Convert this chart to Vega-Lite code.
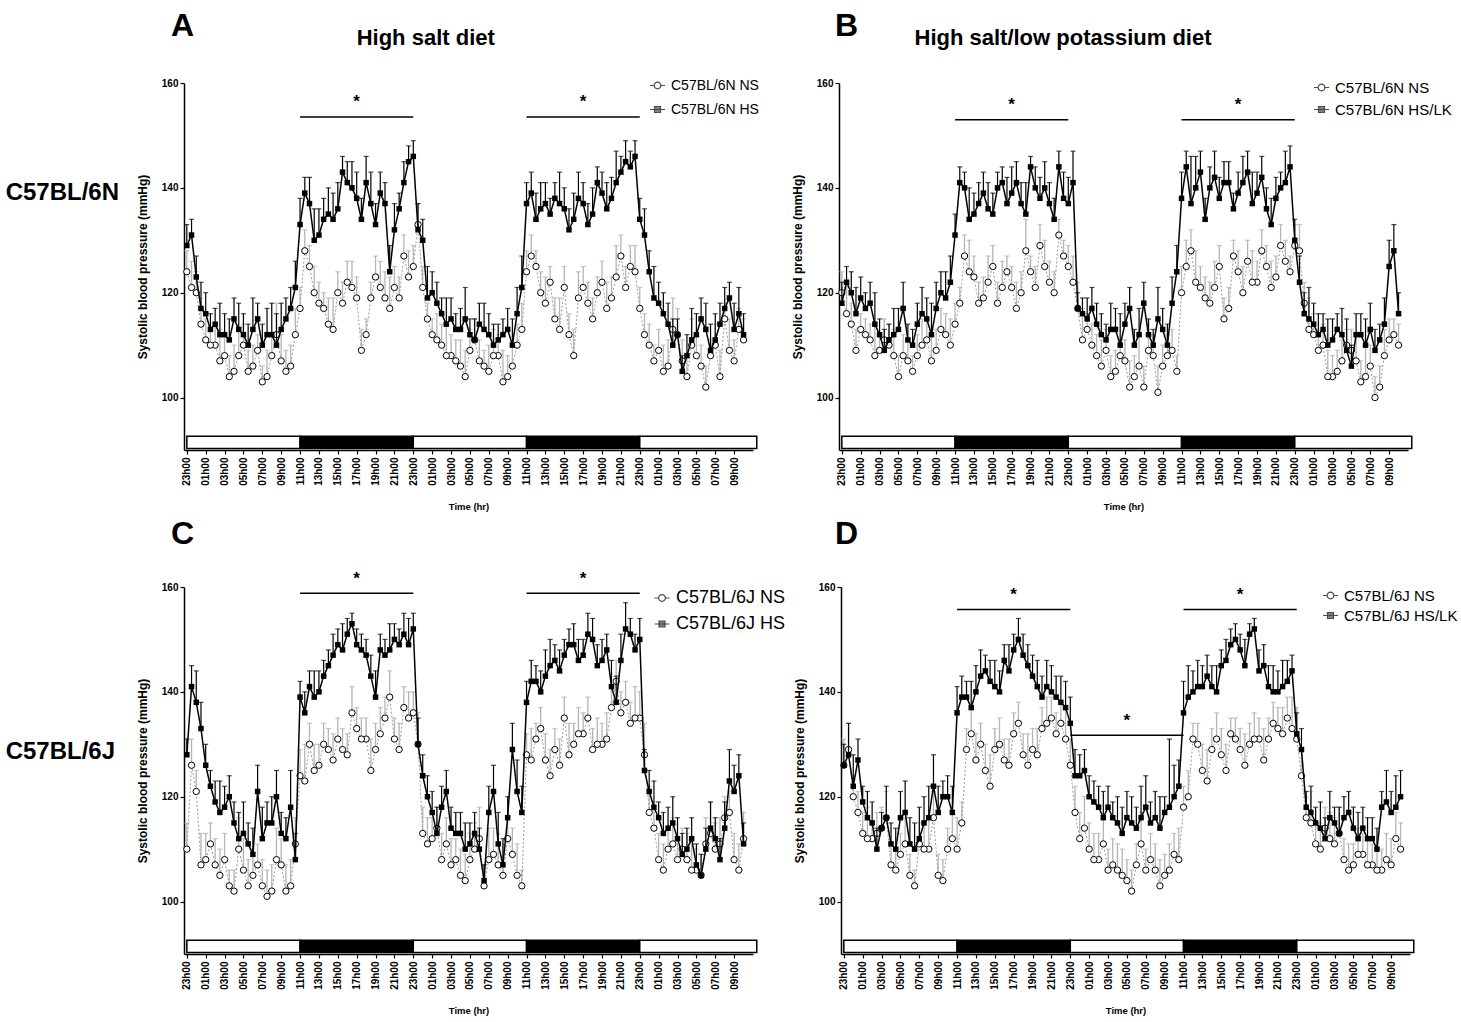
{
"$schema": "https://vega.github.io/schema/vega-lite/v6.json",
"padding": {"left": 5, "top": 9, "right": 5, "bottom": 2},
"config": {"font": "Liberation Sans", "view": {"stroke": null},
 "axis": {"labelFont": "Liberation Sans", "labelFontWeight": "bold", "labelFontSize": 10, "labelColor": "black", "titleFont": "Liberation Sans", "titleFontWeight": "bold", "titleFontSize": 9.5, "titleColor": "black", "domainColor": "black", "domainWidth": 1.5, "tickColor": "black", "tickWidth": 1.2, "grid": false},
 "axisY": {"titleFontSize": 12},
 "axisX": {"labelOverlap": false, "tickCount": 31},
 "legend": {"labelFont": "Liberation Sans", "labelColor": "black"}},
"datasets": {
"bars": [{"a":0,"b":12,"c":"L"},{"a":12,"b":24,"c":"D"},{"a":24,"b":36,"c":"L"},{"a":36,"b":48,"c":"D"},{"a":48,"b":60.4,"c":"L"}],
"sig": [{"a":12,"b":24,"m":18},{"a":36,"b":48,"m":42}],
"sig2": [{"a":24,"b":36,"m":30}],
"AH": [{"t":0,"y":129,"u":133},{"t":1,"y":123,"u":127},{"t":2,"y":116,"u":120},{"t":3,"y":114,"u":117},{"t":4,"y":112,"u":116},{"t":5,"y":115,"u":119},{"t":6,"y":112,"u":116},{"t":7,"y":113,"u":119},{"t":8,"y":110,"u":114},{"t":9,"y":112,"u":118},{"t":10,"y":113,"u":118},{"t":11,"y":117,"u":121},{"t":12,"y":133,"u":138},{"t":13,"y":137,"u":142},{"t":14,"y":131,"u":136},{"t":15,"y":135,"u":140},{"t":16,"y":136,"u":141},{"t":17,"y":141,"u":145},{"t":18,"y":138,"u":143},{"t":19,"y":141,"u":146},{"t":20,"y":133,"u":137},{"t":21,"y":137,"u":141},{"t":22,"y":132,"u":137},{"t":23,"y":141,"u":145},{"t":24,"y":146,"u":149},{"t":25,"y":130,"u":134},{"t":26,"y":120,"u":124},{"t":27,"y":116,"u":119},{"t":28,"y":115,"u":119},{"t":29,"y":113,"u":117},{"t":30,"y":112,"u":115},{"t":31,"y":114,"u":118},{"t":32,"y":112,"u":116},{"t":33,"y":111,"u":114},{"t":34,"y":113,"u":117},{"t":35,"y":116,"u":121},{"t":36,"y":137,"u":141},{"t":37,"y":134,"u":139},{"t":38,"y":137,"u":141},{"t":39,"y":138,"u":141},{"t":40,"y":136,"u":140},{"t":41,"y":134,"u":139},{"t":42,"y":137,"u":141},{"t":43,"y":135,"u":140},{"t":44,"y":139,"u":143},{"t":45,"y":138,"u":142},{"t":46,"y":143,"u":146},{"t":47,"y":144,"u":147},{"t":48,"y":134,"u":138},{"t":49,"y":124,"u":128},{"t":50,"y":118,"u":122},{"t":51,"y":114,"u":118},{"t":52,"y":112,"u":115},{"t":53,"y":108,"u":112},{"t":54,"y":112,"u":116},{"t":55,"y":113,"u":118},{"t":56,"y":111,"u":116},{"t":57,"y":117,"u":121},{"t":58,"y":113,"u":118},{"t":59,"y":112,"u":116},
{"t":0.5,"y":131,"u":134},{"t":1.5,"y":117,"u":122},{"t":2.5,"y":113,"u":116},{"t":3.5,"y":112,"u":118},{"t":4.5,"y":111,"u":115},{"t":5.5,"y":113,"u":118},{"t":6.5,"y":110,"u":114},{"t":7.5,"y":115,"u":118},{"t":8.5,"y":112,"u":117},{"t":9.5,"y":110,"u":116},{"t":10.5,"y":115,"u":119},{"t":11.5,"y":121,"u":126},{"t":12.5,"y":139,"u":142},{"t":13.5,"y":130,"u":136},{"t":14.5,"y":134,"u":138},{"t":15.5,"y":134,"u":139},{"t":16.5,"y":143,"u":146},{"t":17.5,"y":140,"u":145},{"t":18.5,"y":134,"u":138},{"t":19.5,"y":137,"u":143},{"t":20.5,"y":139,"u":143},{"t":21.5,"y":124,"u":129},{"t":22.5,"y":136,"u":139},{"t":23.5,"y":145,"u":148},{"t":24.5,"y":132,"u":137},{"t":25.5,"y":119,"u":125},{"t":26.5,"y":118,"u":122},{"t":27.5,"y":114,"u":119},{"t":28.5,"y":113,"u":116},{"t":29.5,"y":115,"u":121},{"t":30.5,"y":111,"u":115},{"t":31.5,"y":113,"u":118},{"t":32.5,"y":110,"u":114},{"t":33.5,"y":112,"u":115},{"t":34.5,"y":110,"u":115},{"t":35.5,"y":121,"u":127},{"t":36.5,"y":139,"u":143},{"t":37.5,"y":136,"u":141},{"t":38.5,"y":135,"u":138},{"t":39.5,"y":137,"u":143},{"t":40.5,"y":132,"u":136},{"t":41.5,"y":138,"u":143},{"t":42.5,"y":133,"u":137},{"t":43.5,"y":141,"u":144},{"t":44.5,"y":136,"u":141},{"t":45.5,"y":141,"u":147},{"t":46.5,"y":145,"u":149},{"t":47.5,"y":146,"u":149},{"t":48.5,"y":131,"u":136},{"t":49.5,"y":119,"u":125},{"t":50.5,"y":116,"u":120},{"t":51.5,"y":110,"u":115},{"t":52.5,"y":105,"u":108},{"t":53.5,"y":111,"u":117},{"t":54.5,"y":115,"u":119},{"t":55.5,"y":109,"u":114},{"t":56.5,"y":114,"u":118},{"t":57.5,"y":119,"u":122},{"t":58.5,"y":116,"u":121}],
"AN": [{"t":0,"y":124,"u":128},{"t":1,"y":120,"u":124},{"t":2,"y":111,"u":115},{"t":3,"y":110,"u":114},{"t":4,"y":108,"u":112},{"t":5,"y":105,"u":110},{"t":6,"y":110,"u":114},{"t":7,"y":106,"u":110},{"t":8,"y":103,"u":106},{"t":9,"y":108,"u":112},{"t":10,"y":107,"u":112},{"t":11,"y":106,"u":110},{"t":12,"y":117,"u":121},{"t":13,"y":125,"u":129},{"t":14,"y":118,"u":122},{"t":15,"y":114,"u":119},{"t":16,"y":120,"u":124},{"t":17,"y":122,"u":126},{"t":18,"y":119,"u":123},{"t":19,"y":112,"u":115},{"t":20,"y":123,"u":127},{"t":21,"y":119,"u":124},{"t":22,"y":121,"u":125},{"t":23,"y":127,"u":131},{"t":24,"y":125,"u":129},{"t":25,"y":121,"u":125},{"t":26,"y":112,"u":115},{"t":27,"y":110,"u":114},{"t":28,"y":108,"u":112},{"t":29,"y":106,"u":111},{"t":30,"y":109,"u":113},{"t":31,"y":107,"u":111},{"t":32,"y":105,"u":110},{"t":33,"y":108,"u":112},{"t":34,"y":104,"u":108},{"t":35,"y":110,"u":114},{"t":36,"y":124,"u":128},{"t":37,"y":125,"u":128},{"t":38,"y":118,"u":123},{"t":39,"y":115,"u":119},{"t":40,"y":121,"u":125},{"t":41,"y":108,"u":113},{"t":42,"y":121,"u":125},{"t":43,"y":115,"u":119},{"t":44,"y":122,"u":126},{"t":45,"y":119,"u":123},{"t":46,"y":127,"u":131},{"t":47,"y":125,"u":129},{"t":48,"y":117,"u":121},{"t":49,"y":110,"u":114},{"t":50,"y":109,"u":113},{"t":51,"y":106,"u":111},{"t":52,"y":112,"u":117},{"t":53,"y":104,"u":108},{"t":54,"y":108,"u":112},{"t":55,"y":102,"u":106},{"t":56,"y":110,"u":114},{"t":57,"y":115,"u":118},{"t":58,"y":107,"u":111},{"t":59,"y":111,"u":115},
{"t":0.5,"y":121,"u":126},{"t":1.5,"y":114,"u":119},{"t":2.5,"y":110,"u":113},{"t":3.5,"y":107,"u":113},{"t":4.5,"y":104,"u":108},{"t":5.5,"y":108,"u":113},{"t":6.5,"y":105,"u":109},{"t":7.5,"y":109,"u":112},{"t":8.5,"y":104,"u":109},{"t":9.5,"y":112,"u":118},{"t":10.5,"y":105,"u":109},{"t":11.5,"y":112,"u":117},{"t":12.5,"y":128,"u":132},{"t":13.5,"y":120,"u":125},{"t":14.5,"y":117,"u":120},{"t":15.5,"y":113,"u":119},{"t":16.5,"y":118,"u":122},{"t":17.5,"y":121,"u":126},{"t":18.5,"y":109,"u":113},{"t":19.5,"y":119,"u":122},{"t":20.5,"y":121,"u":126},{"t":21.5,"y":117,"u":123},{"t":22.5,"y":119,"u":123},{"t":23.5,"y":123,"u":128},{"t":24.5,"y":133,"u":137},{"t":25.5,"y":115,"u":118},{"t":26.5,"y":111,"u":116},{"t":27.5,"y":108,"u":114},{"t":28.5,"y":107,"u":111},{"t":29.5,"y":104,"u":109},{"t":30.5,"y":111,"u":115},{"t":31.5,"y":106,"u":109},{"t":32.5,"y":108,"u":113},{"t":33.5,"y":103,"u":109},{"t":34.5,"y":106,"u":110},{"t":35.5,"y":113,"u":118},{"t":36.5,"y":127,"u":131},{"t":37.5,"y":120,"u":124},{"t":38.5,"y":122,"u":125},{"t":39.5,"y":113,"u":119},{"t":40.5,"y":112,"u":116},{"t":41.5,"y":119,"u":124},{"t":42.5,"y":118,"u":122},{"t":43.5,"y":120,"u":123},{"t":44.5,"y":117,"u":122},{"t":45.5,"y":123,"u":129},{"t":46.5,"y":121,"u":125},{"t":47.5,"y":124,"u":129},{"t":48.5,"y":112,"u":116},{"t":49.5,"y":107,"u":110},{"t":50.5,"y":105,"u":110},{"t":51.5,"y":113,"u":119},{"t":52.5,"y":107,"u":111},{"t":53.5,"y":110,"u":115},{"t":54.5,"y":106,"u":110},{"t":55.5,"y":108,"u":111},{"t":56.5,"y":104,"u":109},{"t":57.5,"y":109,"u":115},{"t":58.5,"y":113,"u":117}],
"BH": [{"t":0,"y":118,"u":122},{"t":1,"y":120,"u":124},{"t":2,"y":119,"u":123},{"t":3,"y":118,"u":122},{"t":4,"y":112,"u":115},{"t":5,"y":111,"u":114},{"t":6,"y":113,"u":117},{"t":7,"y":111,"u":114},{"t":8,"y":114,"u":118},{"t":9,"y":115,"u":119},{"t":10,"y":117,"u":122},{"t":11,"y":119,"u":124},{"t":12,"y":131,"u":135},{"t":13,"y":140,"u":143},{"t":14,"y":135,"u":139},{"t":15,"y":139,"u":143},{"t":16,"y":135,"u":139},{"t":17,"y":141,"u":144},{"t":18,"y":139,"u":144},{"t":19,"y":137,"u":141},{"t":20,"y":144,"u":146},{"t":21,"y":138,"u":142},{"t":22,"y":137,"u":141},{"t":23,"y":144,"u":147},{"t":24,"y":137,"u":142},{"t":25,"y":117,"u":120},{"t":26,"y":115,"u":119},{"t":27,"y":114,"u":118},{"t":28,"y":111,"u":114},{"t":29,"y":113,"u":117},{"t":30,"y":114,"u":118},{"t":31,"y":110,"u":113},{"t":32,"y":118,"u":122},{"t":33,"y":110,"u":113},{"t":34,"y":113,"u":117},{"t":35,"y":118,"u":123},{"t":36,"y":138,"u":143},{"t":37,"y":137,"u":146},{"t":38,"y":143,"u":147},{"t":39,"y":140,"u":144},{"t":40,"y":138,"u":142},{"t":41,"y":141,"u":145},{"t":42,"y":139,"u":143},{"t":43,"y":143,"u":147},{"t":44,"y":139,"u":143},{"t":45,"y":136,"u":140},{"t":46,"y":138,"u":142},{"t":47,"y":141,"u":147},{"t":48,"y":130,"u":134},{"t":49,"y":116,"u":120},{"t":50,"y":114,"u":118},{"t":51,"y":113,"u":116},{"t":52,"y":111,"u":115},{"t":53,"y":112,"u":117},{"t":54,"y":106,"u":110},{"t":55,"y":112,"u":116},{"t":56,"y":113,"u":118},{"t":57,"y":111,"u":114},{"t":58,"y":125,"u":130},{"t":59,"y":116,"u":120},
{"t":0.5,"y":122,"u":125},{"t":1.5,"y":116,"u":121},{"t":2.5,"y":117,"u":120},{"t":3.5,"y":114,"u":120},{"t":4.5,"y":109,"u":113},{"t":5.5,"y":112,"u":117},{"t":6.5,"y":117,"u":122},{"t":7.5,"y":110,"u":113},{"t":8.5,"y":116,"u":121},{"t":9.5,"y":112,"u":118},{"t":10.5,"y":120,"u":124},{"t":11.5,"y":122,"u":127},{"t":12.5,"y":141,"u":144},{"t":13.5,"y":134,"u":140},{"t":14.5,"y":137,"u":141},{"t":15.5,"y":136,"u":141},{"t":16.5,"y":140,"u":143},{"t":17.5,"y":137,"u":142},{"t":18.5,"y":141,"u":145},{"t":19.5,"y":135,"u":141},{"t":20.5,"y":140,"u":144},{"t":21.5,"y":140,"u":145},{"t":22.5,"y":134,"u":138},{"t":23.5,"y":138,"u":143},{"t":24.5,"y":141,"u":147},{"t":25.5,"y":116,"u":119},{"t":26.5,"y":117,"u":121},{"t":27.5,"y":112,"u":116},{"t":28.5,"y":113,"u":118},{"t":29.5,"y":110,"u":116},{"t":30.5,"y":117,"u":121},{"t":31.5,"y":112,"u":117},{"t":32.5,"y":112,"u":115},{"t":33.5,"y":115,"u":121},{"t":34.5,"y":110,"u":114},{"t":35.5,"y":124,"u":129},{"t":36.5,"y":144,"u":147},{"t":37.5,"y":140,"u":146},{"t":38.5,"y":134,"u":138},{"t":39.5,"y":142,"u":147},{"t":40.5,"y":141,"u":145},{"t":41.5,"y":136,"u":139},{"t":42.5,"y":141,"u":146},{"t":43.5,"y":137,"u":143},{"t":44.5,"y":142,"u":146},{"t":45.5,"y":133,"u":138},{"t":46.5,"y":140,"u":143},{"t":47.5,"y":144,"u":148},{"t":48.5,"y":122,"u":127},{"t":49.5,"y":115,"u":121},{"t":50.5,"y":112,"u":116},{"t":51.5,"y":110,"u":115},{"t":52.5,"y":113,"u":116},{"t":53.5,"y":109,"u":115},{"t":54.5,"y":112,"u":116},{"t":55.5,"y":110,"u":115},{"t":56.5,"y":109,"u":113},{"t":57.5,"y":114,"u":119},{"t":58.5,"y":128,"u":133}],
"BN": [{"t":0,"y":120,"u":124},{"t":1,"y":114,"u":118},{"t":2,"y":113,"u":116},{"t":3,"y":111,"u":114},{"t":4,"y":109,"u":112},{"t":5,"y":110,"u":114},{"t":6,"y":104,"u":108},{"t":7,"y":107,"u":111},{"t":8,"y":108,"u":112},{"t":9,"y":111,"u":115},{"t":10,"y":109,"u":113},{"t":11,"y":112,"u":116},{"t":12,"y":114,"u":118},{"t":13,"y":127,"u":131},{"t":14,"y":123,"u":127},{"t":15,"y":119,"u":123},{"t":16,"y":125,"u":129},{"t":17,"y":121,"u":126},{"t":18,"y":121,"u":125},{"t":19,"y":120,"u":124},{"t":20,"y":124,"u":127},{"t":21,"y":129,"u":133},{"t":22,"y":122,"u":126},{"t":23,"y":131,"u":134},{"t":24,"y":125,"u":129},{"t":25,"y":117,"u":122},{"t":26,"y":113,"u":116},{"t":27,"y":108,"u":112},{"t":28,"y":109,"u":113},{"t":29,"y":105,"u":109},{"t":30,"y":107,"u":111},{"t":31,"y":104,"u":108},{"t":32,"y":102,"u":106},{"t":33,"y":108,"u":112},{"t":34,"y":106,"u":110},{"t":35,"y":109,"u":113},{"t":36,"y":120,"u":125},{"t":37,"y":128,"u":132},{"t":38,"y":121,"u":125},{"t":39,"y":118,"u":122},{"t":40,"y":125,"u":129},{"t":41,"y":117,"u":121},{"t":42,"y":124,"u":128},{"t":43,"y":126,"u":130},{"t":44,"y":122,"u":126},{"t":45,"y":125,"u":129},{"t":46,"y":123,"u":127},{"t":47,"y":126,"u":130},{"t":48,"y":129,"u":133},{"t":49,"y":118,"u":122},{"t":50,"y":112,"u":116},{"t":51,"y":110,"u":114},{"t":52,"y":104,"u":108},{"t":53,"y":107,"u":111},{"t":54,"y":109,"u":113},{"t":55,"y":103,"u":107},{"t":56,"y":106,"u":110},{"t":57,"y":102,"u":106},{"t":58,"y":111,"u":115},{"t":59,"y":110,"u":114},
{"t":0.5,"y":116,"u":121},{"t":1.5,"y":109,"u":113},{"t":2.5,"y":112,"u":115},{"t":3.5,"y":108,"u":114},{"t":4.5,"y":111,"u":115},{"t":5.5,"y":108,"u":113},{"t":6.5,"y":108,"u":112},{"t":7.5,"y":105,"u":108},{"t":8.5,"y":110,"u":115},{"t":9.5,"y":107,"u":113},{"t":10.5,"y":113,"u":117},{"t":11.5,"y":110,"u":115},{"t":12.5,"y":118,"u":121},{"t":13.5,"y":124,"u":130},{"t":14.5,"y":118,"u":122},{"t":15.5,"y":122,"u":127},{"t":16.5,"y":118,"u":122},{"t":17.5,"y":124,"u":127},{"t":18.5,"y":117,"u":122},{"t":19.5,"y":128,"u":134},{"t":20.5,"y":121,"u":125},{"t":21.5,"y":125,"u":130},{"t":22.5,"y":120,"u":124},{"t":23.5,"y":127,"u":130},{"t":24.5,"y":122,"u":127},{"t":25.5,"y":111,"u":117},{"t":26.5,"y":110,"u":114},{"t":27.5,"y":106,"u":111},{"t":28.5,"y":104,"u":108},{"t":29.5,"y":108,"u":111},{"t":30.5,"y":102,"u":107},{"t":31.5,"y":106,"u":112},{"t":32.5,"y":109,"u":113},{"t":33.5,"y":101,"u":106},{"t":34.5,"y":108,"u":112},{"t":35.5,"y":105,"u":108},{"t":36.5,"y":125,"u":130},{"t":37.5,"y":122,"u":128},{"t":38.5,"y":119,"u":123},{"t":39.5,"y":121,"u":126},{"t":40.5,"y":115,"u":119},{"t":41.5,"y":127,"u":130},{"t":42.5,"y":120,"u":125},{"t":43.5,"y":122,"u":128},{"t":44.5,"y":128,"u":132},{"t":45.5,"y":121,"u":126},{"t":46.5,"y":129,"u":133},{"t":47.5,"y":124,"u":127},{"t":48.5,"y":128,"u":133},{"t":49.5,"y":113,"u":119},{"t":50.5,"y":109,"u":113},{"t":51.5,"y":104,"u":109},{"t":52.5,"y":105,"u":109},{"t":53.5,"y":110,"u":113},{"t":54.5,"y":107,"u":112},{"t":55.5,"y":104,"u":110},{"t":56.5,"y":100,"u":104},{"t":57.5,"y":108,"u":113},{"t":58.5,"y":112,"u":115}],
"CH": [{"t":0,"y":128,"u":131},{"t":1,"y":138,"u":144},{"t":2,"y":126,"u":130},{"t":3,"y":119,"u":123},{"t":4,"y":118,"u":122},{"t":5,"y":115,"u":119},{"t":6,"y":113,"u":119},{"t":7,"y":109,"u":114},{"t":8,"y":112,"u":118},{"t":9,"y":115,"u":120},{"t":10,"y":113,"u":117},{"t":11,"y":118,"u":125},{"t":12,"y":139,"u":142},{"t":13,"y":141,"u":144},{"t":14,"y":140,"u":144},{"t":15,"y":145,"u":148},{"t":16,"y":149,"u":152},{"t":17,"y":151,"u":154},{"t":18,"y":149,"u":152},{"t":19,"y":147,"u":150},{"t":20,"y":139,"u":144},{"t":21,"y":147,"u":150},{"t":22,"y":150,"u":153},{"t":23,"y":151,"u":155},{"t":24,"y":152,"u":155},{"t":25,"y":124,"u":128},{"t":26,"y":117,"u":121},{"t":27,"y":118,"u":122},{"t":28,"y":114,"u":118},{"t":29,"y":113,"u":117},{"t":30,"y":111,"u":115},{"t":31,"y":110,"u":114},{"t":32,"y":117,"u":122},{"t":33,"y":111,"u":117},{"t":34,"y":116,"u":120},{"t":35,"y":121,"u":127},{"t":36,"y":138,"u":142},{"t":37,"y":142,"u":145},{"t":38,"y":143,"u":148},{"t":39,"y":146,"u":149},{"t":40,"y":147,"u":150},{"t":41,"y":149,"u":153},{"t":42,"y":147,"u":150},{"t":43,"y":150,"u":154},{"t":44,"y":146,"u":150},{"t":45,"y":141,"u":146},{"t":46,"y":146,"u":151},{"t":47,"y":151,"u":154},{"t":48,"y":150,"u":154},{"t":49,"y":121,"u":125},{"t":50,"y":116,"u":119},{"t":51,"y":114,"u":118},{"t":52,"y":112,"u":116},{"t":53,"y":110,"u":114},{"t":54,"y":107,"u":111},{"t":55,"y":110,"u":114},{"t":56,"y":112,"u":116},{"t":57,"y":114,"u":119},{"t":58,"y":121,"u":126},{"t":59,"y":111,"u":115},
{"t":0.5,"y":141,"u":145},{"t":1.5,"y":133,"u":138},{"t":2.5,"y":122,"u":125},{"t":3.5,"y":117,"u":123},{"t":4.5,"y":120,"u":124},{"t":5.5,"y":112,"u":117},{"t":6.5,"y":111,"u":115},{"t":7.5,"y":121,"u":126},{"t":8.5,"y":115,"u":119},{"t":9.5,"y":120,"u":125},{"t":10.5,"y":112,"u":116},{"t":11.5,"y":108,"u":113},{"t":12.5,"y":136,"u":140},{"t":13.5,"y":139,"u":144},{"t":14.5,"y":143,"u":146},{"t":15.5,"y":147,"u":151},{"t":16.5,"y":148,"u":153},{"t":17.5,"y":153,"u":155},{"t":18.5,"y":148,"u":151},{"t":19.5,"y":143,"u":147},{"t":20.5,"y":148,"u":151},{"t":21.5,"y":148,"u":153},{"t":22.5,"y":149,"u":152},{"t":23.5,"y":149,"u":154},{"t":24.5,"y":130,"u":135},{"t":25.5,"y":120,"u":124},{"t":26.5,"y":113,"u":118},{"t":27.5,"y":121,"u":125},{"t":28.5,"y":113,"u":117},{"t":29.5,"y":110,"u":115},{"t":30.5,"y":113,"u":117},{"t":31.5,"y":104,"u":107},{"t":32.5,"y":121,"u":126},{"t":33.5,"y":107,"u":112},{"t":34.5,"y":129,"u":134},{"t":35.5,"y":117,"u":122},{"t":36.5,"y":142,"u":146},{"t":37.5,"y":140,"u":144},{"t":38.5,"y":145,"u":150},{"t":39.5,"y":144,"u":148},{"t":40.5,"y":149,"u":152},{"t":41.5,"y":146,"u":150},{"t":42.5,"y":151,"u":155},{"t":43.5,"y":145,"u":149},{"t":44.5,"y":148,"u":151},{"t":45.5,"y":138,"u":143},{"t":46.5,"y":152,"u":157},{"t":47.5,"y":148,"u":151},{"t":48.5,"y":125,"u":129},{"t":49.5,"y":118,"u":123},{"t":50.5,"y":113,"u":117},{"t":51.5,"y":115,"u":120},{"t":52.5,"y":109,"u":113},{"t":53.5,"y":112,"u":116},{"t":54.5,"y":105,"u":109},{"t":55.5,"y":114,"u":119},{"t":56.5,"y":108,"u":112},{"t":57.5,"y":123,"u":129},{"t":58.5,"y":124,"u":128}],
"CN": [{"t":0,"y":110,"u":115},{"t":1,"y":121,"u":125},{"t":2,"y":108,"u":113},{"t":3,"y":107,"u":112},{"t":4,"y":108,"u":113},{"t":5,"y":102,"u":106},{"t":6,"y":106,"u":112},{"t":7,"y":105,"u":110},{"t":8,"y":103,"u":108},{"t":9,"y":102,"u":107},{"t":10,"y":107,"u":112},{"t":11,"y":103,"u":108},{"t":12,"y":124,"u":129},{"t":13,"y":130,"u":134},{"t":14,"y":126,"u":130},{"t":15,"y":129,"u":133},{"t":16,"y":131,"u":135},{"t":17,"y":128,"u":132},{"t":18,"y":133,"u":137},{"t":19,"y":131,"u":135},{"t":20,"y":129,"u":134},{"t":21,"y":135,"u":139},{"t":22,"y":131,"u":135},{"t":23,"y":137,"u":141},{"t":24,"y":136,"u":140},{"t":25,"y":113,"u":118},{"t":26,"y":112,"u":116},{"t":27,"y":108,"u":113},{"t":28,"y":107,"u":112},{"t":29,"y":105,"u":110},{"t":30,"y":108,"u":113},{"t":31,"y":112,"u":118},{"t":32,"y":108,"u":114},{"t":33,"y":107,"u":113},{"t":34,"y":112,"u":116},{"t":35,"y":105,"u":111},{"t":36,"y":128,"u":132},{"t":37,"y":131,"u":134},{"t":38,"y":127,"u":132},{"t":39,"y":129,"u":133},{"t":40,"y":135,"u":139},{"t":41,"y":130,"u":134},{"t":42,"y":132,"u":136},{"t":43,"y":129,"u":133},{"t":44,"y":130,"u":134},{"t":45,"y":137,"u":141},{"t":46,"y":136,"u":140},{"t":47,"y":134,"u":138},{"t":48,"y":135,"u":140},{"t":49,"y":117,"u":122},{"t":50,"y":108,"u":113},{"t":51,"y":110,"u":114},{"t":52,"y":108,"u":112},{"t":53,"y":108,"u":113},{"t":54,"y":106,"u":110},{"t":55,"y":111,"u":116},{"t":56,"y":110,"u":115},{"t":57,"y":116,"u":120},{"t":58,"y":108,"u":113},{"t":59,"y":112,"u":117},
{"t":0.5,"y":126,"u":131},{"t":1.5,"y":107,"u":113},{"t":2.5,"y":111,"u":115},{"t":3.5,"y":105,"u":110},{"t":4.5,"y":103,"u":106},{"t":5.5,"y":110,"u":116},{"t":6.5,"y":103,"u":108},{"t":7.5,"y":107,"u":111},{"t":8.5,"y":101,"u":106},{"t":9.5,"y":108,"u":114},{"t":10.5,"y":102,"u":107},{"t":11.5,"y":111,"u":116},{"t":12.5,"y":123,"u":130},{"t":13.5,"y":125,"u":130},{"t":14.5,"y":130,"u":134},{"t":15.5,"y":127,"u":132},{"t":16.5,"y":129,"u":133},{"t":17.5,"y":136,"u":141},{"t":18.5,"y":131,"u":135},{"t":19.5,"y":125,"u":131},{"t":20.5,"y":132,"u":137},{"t":21.5,"y":139,"u":144},{"t":22.5,"y":129,"u":134},{"t":23.5,"y":135,"u":140},{"t":24.5,"y":130,"u":136},{"t":25.5,"y":111,"u":116},{"t":26.5,"y":114,"u":118},{"t":27.5,"y":111,"u":116},{"t":28.5,"y":108,"u":112},{"t":29.5,"y":104,"u":109},{"t":30.5,"y":110,"u":115},{"t":31.5,"y":103,"u":107},{"t":32.5,"y":109,"u":114},{"t":33.5,"y":105,"u":111},{"t":34.5,"y":109,"u":114},{"t":35.5,"y":103,"u":106},{"t":36.5,"y":127,"u":133},{"t":37.5,"y":133,"u":137},{"t":38.5,"y":124,"u":129},{"t":39.5,"y":126,"u":131},{"t":40.5,"y":128,"u":134},{"t":41.5,"y":132,"u":137},{"t":42.5,"y":135,"u":139},{"t":43.5,"y":130,"u":135},{"t":44.5,"y":131,"u":136},{"t":45.5,"y":142,"u":146},{"t":46.5,"y":138,"u":142},{"t":47.5,"y":135,"u":141},{"t":48.5,"y":128,"u":134},{"t":49.5,"y":114,"u":119},{"t":50.5,"y":106,"u":111},{"t":51.5,"y":111,"u":116},{"t":52.5,"y":110,"u":114},{"t":53.5,"y":106,"u":111},{"t":54.5,"y":105,"u":109},{"t":55.5,"y":113,"u":119},{"t":56.5,"y":111,"u":116},{"t":57.5,"y":117,"u":121},{"t":58.5,"y":106,"u":111}],
"DH": [{"t":0,"y":126,"u":130},{"t":1,"y":122,"u":128},{"t":2,"y":119,"u":122},{"t":3,"y":115,"u":119},{"t":4,"y":114,"u":117},{"t":5,"y":111,"u":115},{"t":6,"y":116,"u":121},{"t":7,"y":111,"u":116},{"t":8,"y":112,"u":118},{"t":9,"y":116,"u":122},{"t":10,"y":117,"u":122},{"t":11,"y":120,"u":124},{"t":12,"y":136,"u":141},{"t":13,"y":139,"u":142},{"t":14,"y":140,"u":145},{"t":15,"y":144,"u":147},{"t":16,"y":141,"u":146},{"t":17,"y":146,"u":149},{"t":18,"y":148,"u":151},{"t":19,"y":147,"u":151},{"t":20,"y":143,"u":147},{"t":21,"y":139,"u":143},{"t":22,"y":140,"u":145},{"t":23,"y":138,"u":143},{"t":24,"y":134,"u":139},{"t":25,"y":124,"u":128},{"t":26,"y":120,"u":124},{"t":27,"y":118,"u":122},{"t":28,"y":118,"u":122},{"t":29,"y":115,"u":120},{"t":30,"y":116,"u":121},{"t":31,"y":114,"u":118},{"t":32,"y":118,"u":124},{"t":33,"y":116,"u":121},{"t":34,"y":117,"u":120},{"t":35,"y":120,"u":126},{"t":36,"y":136,"u":142},{"t":37,"y":140,"u":144},{"t":38,"y":141,"u":145},{"t":39,"y":141,"u":145},{"t":40,"y":145,"u":148},{"t":41,"y":149,"u":152},{"t":42,"y":148,"u":151},{"t":43,"y":151,"u":153},{"t":44,"y":144,"u":148},{"t":45,"y":141,"u":145},{"t":46,"y":140,"u":144},{"t":47,"y":142,"u":146},{"t":48,"y":132,"u":136},{"t":49,"y":118,"u":121},{"t":50,"y":115,"u":118},{"t":51,"y":112,"u":116},{"t":52,"y":115,"u":118},{"t":53,"y":116,"u":120},{"t":54,"y":114,"u":118},{"t":55,"y":114,"u":118},{"t":56,"y":112,"u":116},{"t":57,"y":118,"u":121},{"t":58,"y":117,"u":121},{"t":59,"y":120,"u":125},
{"t":0.5,"y":128,"u":134},{"t":1.5,"y":127,"u":131},{"t":2.5,"y":116,"u":121},{"t":3.5,"y":110,"u":114},{"t":4.5,"y":116,"u":122},{"t":5.5,"y":110,"u":114},{"t":6.5,"y":117,"u":123},{"t":7.5,"y":110,"u":115},{"t":8.5,"y":115,"u":120},{"t":9.5,"y":122,"u":128},{"t":10.5,"y":120,"u":123},{"t":11.5,"y":117,"u":122},{"t":12.5,"y":139,"u":143},{"t":13.5,"y":137,"u":142},{"t":14.5,"y":143,"u":148},{"t":15.5,"y":142,"u":146},{"t":16.5,"y":140,"u":144},{"t":17.5,"y":144,"u":149},{"t":18.5,"y":150,"u":154},{"t":19.5,"y":145,"u":149},{"t":20.5,"y":141,"u":146},{"t":21.5,"y":141,"u":146},{"t":22.5,"y":139,"u":143},{"t":23.5,"y":137,"u":142},{"t":24.5,"y":124,"u":129},{"t":25.5,"y":125,"u":129},{"t":26.5,"y":119,"u":123},{"t":27.5,"y":116,"u":121},{"t":28.5,"y":116,"u":119},{"t":29.5,"y":113,"u":118},{"t":30.5,"y":115,"u":120},{"t":31.5,"y":116,"u":122},{"t":32.5,"y":115,"u":119},{"t":33.5,"y":114,"u":120},{"t":34.5,"y":118,"u":131},{"t":35.5,"y":122,"u":127},{"t":36.5,"y":139,"u":145},{"t":37.5,"y":141,"u":146},{"t":38.5,"y":143,"u":147},{"t":39.5,"y":140,"u":145},{"t":40.5,"y":146,"u":150},{"t":41.5,"y":150,"u":153},{"t":42.5,"y":145,"u":150},{"t":43.5,"y":152,"u":154},{"t":44.5,"y":145,"u":149},{"t":45.5,"y":140,"u":145},{"t":46.5,"y":141,"u":146},{"t":47.5,"y":144,"u":147},{"t":48.5,"y":129,"u":133},{"t":49.5,"y":117,"u":122},{"t":50.5,"y":114,"u":119},{"t":51.5,"y":116,"u":121},{"t":52.5,"y":113,"u":118},{"t":53.5,"y":117,"u":121},{"t":54.5,"y":112,"u":117},{"t":55.5,"y":112,"u":116},{"t":56.5,"y":110,"u":114},{"t":57.5,"y":119,"u":125},{"t":58.5,"y":118,"u":124}],
"DN": [{"t":0,"y":126,"u":131},{"t":1,"y":120,"u":124},{"t":2,"y":113,"u":117},{"t":3,"y":112,"u":115},{"t":4,"y":114,"u":118},{"t":5,"y":107,"u":111},{"t":6,"y":109,"u":113},{"t":7,"y":105,"u":109},{"t":8,"y":111,"u":115},{"t":9,"y":110,"u":116},{"t":10,"y":105,"u":109},{"t":11,"y":110,"u":114},{"t":12,"y":110,"u":116},{"t":13,"y":129,"u":133},{"t":14,"y":127,"u":132},{"t":15,"y":125,"u":130},{"t":16,"y":129,"u":133},{"t":17,"y":127,"u":131},{"t":18,"y":132,"u":136},{"t":19,"y":128,"u":132},{"t":20,"y":129,"u":133},{"t":21,"y":133,"u":137},{"t":22,"y":135,"u":139},{"t":23,"y":134,"u":138},{"t":24,"y":126,"u":131},{"t":25,"y":112,"u":117},{"t":26,"y":110,"u":115},{"t":27,"y":108,"u":113},{"t":28,"y":106,"u":110},{"t":29,"y":106,"u":111},{"t":30,"y":104,"u":108},{"t":31,"y":107,"u":111},{"t":32,"y":106,"u":110},{"t":33,"y":106,"u":111},{"t":34,"y":105,"u":109},{"t":35,"y":109,"u":113},{"t":36,"y":118,"u":122},{"t":37,"y":131,"u":134},{"t":38,"y":125,"u":130},{"t":39,"y":129,"u":133},{"t":40,"y":128,"u":133},{"t":41,"y":132,"u":135},{"t":42,"y":129,"u":133},{"t":43,"y":130,"u":134},{"t":44,"y":131,"u":135},{"t":45,"y":131,"u":135},{"t":46,"y":133,"u":137},{"t":47,"y":135,"u":139},{"t":48,"y":131,"u":137},{"t":49,"y":116,"u":120},{"t":50,"y":111,"u":115},{"t":51,"y":114,"u":118},{"t":52,"y":111,"u":116},{"t":53,"y":108,"u":112},{"t":54,"y":107,"u":111},{"t":55,"y":109,"u":113},{"t":56,"y":107,"u":111},{"t":57,"y":106,"u":110},{"t":58,"y":107,"u":112},{"t":59,"y":110,"u":115},
{"t":0.5,"y":129,"u":134},{"t":1.5,"y":117,"u":121},{"t":2.5,"y":112,"u":118},{"t":3.5,"y":113,"u":117},{"t":4.5,"y":116,"u":121},{"t":5.5,"y":106,"u":110},{"t":6.5,"y":111,"u":116},{"t":7.5,"y":103,"u":106},{"t":8.5,"y":110,"u":115},{"t":9.5,"y":116,"u":121},{"t":10.5,"y":104,"u":108},{"t":11.5,"y":112,"u":117},{"t":12.5,"y":115,"u":119},{"t":13.5,"y":132,"u":137},{"t":14.5,"y":130,"u":134},{"t":15.5,"y":122,"u":128},{"t":16.5,"y":130,"u":135},{"t":17.5,"y":126,"u":131},{"t":18.5,"y":134,"u":138},{"t":19.5,"y":126,"u":132},{"t":20.5,"y":128,"u":133},{"t":21.5,"y":134,"u":139},{"t":22.5,"y":132,"u":136},{"t":23.5,"y":131,"u":137},{"t":24.5,"y":117,"u":122},{"t":25.5,"y":114,"u":120},{"t":26.5,"y":108,"u":113},{"t":27.5,"y":111,"u":116},{"t":28.5,"y":107,"u":112},{"t":29.5,"y":105,"u":110},{"t":30.5,"y":102,"u":106},{"t":31.5,"y":111,"u":117},{"t":32.5,"y":108,"u":113},{"t":33.5,"y":103,"u":108},{"t":34.5,"y":106,"u":111},{"t":35.5,"y":108,"u":114},{"t":36.5,"y":120,"u":125},{"t":37.5,"y":130,"u":134},{"t":38.5,"y":123,"u":129},{"t":39.5,"y":131,"u":136},{"t":40.5,"y":125,"u":130},{"t":41.5,"y":131,"u":135},{"t":42.5,"y":126,"u":132},{"t":43.5,"y":131,"u":136},{"t":44.5,"y":127,"u":133},{"t":45.5,"y":134,"u":138},{"t":46.5,"y":132,"u":137},{"t":47.5,"y":133,"u":139},{"t":48.5,"y":124,"u":129},{"t":49.5,"y":115,"u":121},{"t":50.5,"y":110,"u":115},{"t":51.5,"y":112,"u":117},{"t":52.5,"y":113,"u":118},{"t":53.5,"y":106,"u":111},{"t":54.5,"y":109,"u":114},{"t":55.5,"y":107,"u":112},{"t":56.5,"y":106,"u":110},{"t":57.5,"y":108,"u":113},{"t":58.5,"y":112,"u":117}]
},
"spacing": 7,
"resolve": {"scale": {"shape": "independent", "fill": "independent"}, "legend": {"shape": "independent", "fill": "independent"}},
"vconcat": [
{"hconcat": [
{"width": 569, "height": 367,
 "layer": [
  {"data": {"name": "bars"}, "mark": {"type": "rect", "stroke": "black", "strokeWidth": 1.5}, "encoding": {"x": {"field": "a", "type": "quantitative"}, "x2": {"field": "b"}, "y": {"datum": 90.3}, "y2": {"datum": 92.6}, "fill": {"condition": {"test": "datum.c==='D'", "value": "black"}, "value": "white"}}},
  {"data": {"name": "sig"}, "mark": {"type": "rule", "strokeWidth": 1.5, "color": "black"}, "encoding": {"x": {"field": "a", "type": "quantitative"}, "x2": {"field": "b"}, "y": {"datum": 153.5}}},
  {"data": {"name": "sig"}, "mark": {"type": "text", "fontSize": 17, "fontWeight": "bold", "baseline": "middle"}, "encoding": {"x": {"field": "m", "type": "quantitative"}, "y": {"datum": 156.3}, "text": {"value": "*"}}},
  {"data": {"values": [{"s": "C57BL/6N NS"}, {"s": "C57BL/6N HS"}]}, "mark": {"type": "point", "clip": true, "filled": true, "stroke": "black", "strokeWidth": 1.2, "size": 225},
   "encoding": {"x": {"datum": -50}, "y": {"datum": 0},
    "shape": {"field": "s", "type": "nominal", "scale": {"domain": ["C57BL/6N NS", "C57BL/6N HS"], "range": ["M-1,0H-0.45M0.45,0H1M0.45,0A0.45,0.45,0,1,1,-0.45,0A0.45,0.45,0,1,1,0.45,0Z", "M-1,0H1M-0.4,-0.4H0.4V0.4H-0.4Z"]}, "legend": {"title": null, "orient": "none", "legendX": 465, "legendY": -6, "labelFontSize": 14, "rowPadding": 8, "symbolSize": 225, "symbolStrokeWidth": 1.2, "labelOffset": 5}},
    "fill": {"field": "s", "type": "nominal", "scale": {"domain": ["C57BL/6N NS", "C57BL/6N HS"], "range": ["white", "black"]}, "legend": {"title": null, "orient": "none", "legendX": 465, "legendY": -6, "labelFontSize": 14, "rowPadding": 8, "symbolSize": 225, "symbolStrokeWidth": 1.2, "labelOffset": 5}}}},
  {"data": {"values": [{"l": "A"}]}, "mark": {"type": "text", "align": "left", "baseline": "alphabetic", "fontSize": 32, "fontWeight": "bold"}, "encoding": {"x": {"datum": -1.68}, "y": {"datum": 169}, "text": {"field": "l"}}},
  {"data": {"values": [{"l": "High salt diet"}]}, "mark": {"type": "text", "align": "left", "baseline": "alphabetic", "fontSize": 22, "fontWeight": "bold"}, "encoding": {"x": {"datum": 18}, "y": {"datum": 167.3}, "text": {"field": "l"}}},
  {"data": {"values": [{"l": "C57BL/6N"}]}, "mark": {"type": "text", "align": "left", "baseline": "alphabetic", "fontSize": 24, "fontWeight": "bold"}, "encoding": {"x": {"datum": -19.2}, "y": {"datum": 137.7}, "text": {"field": "l"}}},
  {"encoding": {"x": {"field": "t", "type": "quantitative", "scale": {"domain": [-0.3, 60], "nice": false, "zero": false}, "axis": {"values": [0,2,4,6,8,10,12,14,16,18,20,22,24,26,28,30,32,34,36,38,40,42,44,46,48,50,52,54,56,58], "tickCount": 31, "labelExpr": "(((23+datum.value)%24)<10?'0':'')+((23+datum.value)%24)+'h00'", "labelAngle": 270, "labelOverlap": false, "title": "Time (hr)", "titlePadding": 16, "labelPadding": 3, "tickSize": 4}},
    "y": {"field": "y", "type": "quantitative", "scale": {"domain": [90, 160], "nice": false, "zero": false}, "axis": {"values": [100,120,140,160], "title": "Systolic blood pressure (mmHg)", "titlePadding": 12, "tickSize": 4}}},
   "layer": [
    {"data": {"name": "AN"}, "mark": {"type": "rule", "color": "#b4b4b4", "strokeWidth": 1.3}, "encoding": {"y2": {"field": "u"}}},
    {"data": {"name": "AN"}, "mark": {"type": "tick", "orient": "horizontal", "color": "#b4b4b4", "size": 5, "thickness": 1.3}, "encoding": {"y": {"field": "u", "type": "quantitative"}}},
    {"data": {"name": "AN"}, "mark": {"type": "line", "color": "#9c9c9c", "strokeWidth": 1, "strokeDash": [2, 2]}, "encoding": {}},
    {"data": {"name": "AN"}, "mark": {"type": "point", "shape": "circle", "filled": true, "fill": "white", "stroke": "black", "strokeWidth": 1, "size": 40, "opacity": 1}, "encoding": {}},
    {"data": {"name": "AH"}, "mark": {"type": "rule", "color": "black", "strokeWidth": 1.2}, "encoding": {"y2": {"field": "u"}}},
    {"data": {"name": "AH"}, "mark": {"type": "tick", "orient": "horizontal", "color": "black", "size": 5, "thickness": 1.2}, "encoding": {"y": {"field": "u", "type": "quantitative"}}},
    {"data": {"name": "AH"}, "mark": {"type": "line", "color": "black", "strokeWidth": 1.5}, "encoding": {}},
    {"data": {"name": "AH"}, "mark": {"type": "point", "shape": "square", "filled": true, "color": "black", "size": 30, "opacity": 1}, "encoding": {}}
   ]}
 ]},
{"width": 569, "height": 367,
 "layer": [
  {"data": {"name": "bars"}, "mark": {"type": "rect", "stroke": "black", "strokeWidth": 1.5}, "encoding": {"x": {"field": "a", "type": "quantitative"}, "x2": {"field": "b"}, "y": {"datum": 90.3}, "y2": {"datum": 92.6}, "fill": {"condition": {"test": "datum.c==='D'", "value": "black"}, "value": "white"}}},
  {"data": {"name": "sig"}, "mark": {"type": "rule", "strokeWidth": 1.5, "color": "black"}, "encoding": {"x": {"field": "a", "type": "quantitative"}, "x2": {"field": "b"}, "y": {"datum": 153}}},
  {"data": {"name": "sig"}, "mark": {"type": "text", "fontSize": 17, "fontWeight": "bold", "baseline": "middle"}, "encoding": {"x": {"field": "m", "type": "quantitative"}, "y": {"datum": 155.8}, "text": {"value": "*"}}},
  {"data": {"values": [{"s": "C57BL/6N NS"}, {"s": "C57BL/6N HS/LK"}]}, "mark": {"type": "point", "clip": true, "filled": true, "stroke": "black", "strokeWidth": 1.2, "size": 225},
   "encoding": {"x": {"datum": -50}, "y": {"datum": 0},
    "shape": {"field": "s", "type": "nominal", "scale": {"domain": ["C57BL/6N NS", "C57BL/6N HS/LK"], "range": ["M-1,0H-0.45M0.45,0H1M0.45,0A0.45,0.45,0,1,1,-0.45,0A0.45,0.45,0,1,1,0.45,0Z", "M-1,0H1M-0.4,-0.4H0.4V0.4H-0.4Z"]}, "legend": {"title": null, "orient": "none", "legendX": 474, "legendY": -4, "labelFontSize": 15, "rowPadding": 5, "symbolSize": 225, "symbolStrokeWidth": 1.2, "labelOffset": 5}},
    "fill": {"field": "s", "type": "nominal", "scale": {"domain": ["C57BL/6N NS", "C57BL/6N HS/LK"], "range": ["white", "black"]}, "legend": {"title": null, "orient": "none", "legendX": 474, "legendY": -4, "labelFontSize": 15, "rowPadding": 5, "symbolSize": 225, "symbolStrokeWidth": 1.2, "labelOffset": 5}}}},
  {"data": {"values": [{"l": "B"}]}, "mark": {"type": "text", "align": "left", "baseline": "alphabetic", "fontSize": 32, "fontWeight": "bold"}, "encoding": {"x": {"datum": -0.73}, "y": {"datum": 169}, "text": {"field": "l"}}},
  {"data": {"values": [{"l": "High salt/low potassium diet"}]}, "mark": {"type": "text", "align": "left", "baseline": "alphabetic", "fontSize": 22, "fontWeight": "bold"}, "encoding": {"x": {"datum": 7.7}, "y": {"datum": 167.3}, "text": {"field": "l"}}},
  {"encoding": {"x": {"field": "t", "type": "quantitative", "scale": {"domain": [-0.3, 60], "nice": false, "zero": false}, "axis": {"values": [0,2,4,6,8,10,12,14,16,18,20,22,24,26,28,30,32,34,36,38,40,42,44,46,48,50,52,54,56,58], "tickCount": 31, "labelExpr": "(((23+datum.value)%24)<10?'0':'')+((23+datum.value)%24)+'h00'", "labelAngle": 270, "labelOverlap": false, "title": "Time (hr)", "titlePadding": 16, "labelPadding": 3, "tickSize": 4}},
    "y": {"field": "y", "type": "quantitative", "scale": {"domain": [90, 160], "nice": false, "zero": false}, "axis": {"values": [100,120,140,160], "title": "Systolic blood pressure (mmHg)", "titlePadding": 12, "tickSize": 4}}},
   "layer": [
    {"data": {"name": "BN"}, "mark": {"type": "rule", "color": "#b4b4b4", "strokeWidth": 1.3}, "encoding": {"y2": {"field": "u"}}},
    {"data": {"name": "BN"}, "mark": {"type": "tick", "orient": "horizontal", "color": "#b4b4b4", "size": 5, "thickness": 1.3}, "encoding": {"y": {"field": "u", "type": "quantitative"}}},
    {"data": {"name": "BN"}, "mark": {"type": "line", "color": "#9c9c9c", "strokeWidth": 1, "strokeDash": [2, 2]}, "encoding": {}},
    {"data": {"name": "BN"}, "mark": {"type": "point", "shape": "circle", "filled": true, "fill": "white", "stroke": "black", "strokeWidth": 1, "size": 40, "opacity": 1}, "encoding": {}},
    {"data": {"name": "BH"}, "mark": {"type": "rule", "color": "black", "strokeWidth": 1.2}, "encoding": {"y2": {"field": "u"}}},
    {"data": {"name": "BH"}, "mark": {"type": "tick", "orient": "horizontal", "color": "black", "size": 5, "thickness": 1.2}, "encoding": {"y": {"field": "u", "type": "quantitative"}}},
    {"data": {"name": "BH"}, "mark": {"type": "line", "color": "black", "strokeWidth": 1.5}, "encoding": {}},
    {"data": {"name": "BH"}, "mark": {"type": "point", "shape": "square", "filled": true, "color": "black", "size": 30, "opacity": 1}, "encoding": {}}
   ]}
 ]}
], "spacing": 32, "resolve": {"scale": {"shape": "independent", "fill": "independent"}, "legend": {"shape": "independent", "fill": "independent"}}},
{"hconcat": [
{"width": 569, "height": 367,
 "layer": [
  {"data": {"name": "bars"}, "mark": {"type": "rect", "stroke": "black", "strokeWidth": 1.5}, "encoding": {"x": {"field": "a", "type": "quantitative"}, "x2": {"field": "b"}, "y": {"datum": 90.3}, "y2": {"datum": 92.6}, "fill": {"condition": {"test": "datum.c==='D'", "value": "black"}, "value": "white"}}},
  {"data": {"name": "sig"}, "mark": {"type": "rule", "strokeWidth": 1.5, "color": "black"}, "encoding": {"x": {"field": "a", "type": "quantitative"}, "x2": {"field": "b"}, "y": {"datum": 158.8}}},
  {"data": {"name": "sig"}, "mark": {"type": "text", "fontSize": 17, "fontWeight": "bold", "baseline": "middle"}, "encoding": {"x": {"field": "m", "type": "quantitative"}, "y": {"datum": 161.5}, "text": {"value": "*"}}},
  {"data": {"values": [{"s": "C57BL/6J NS"}, {"s": "C57BL/6J HS"}]}, "mark": {"type": "point", "clip": true, "filled": true, "stroke": "black", "strokeWidth": 1.2, "size": 225},
   "encoding": {"x": {"datum": -50}, "y": {"datum": 0},
    "shape": {"field": "s", "type": "nominal", "scale": {"domain": ["C57BL/6J NS", "C57BL/6J HS"], "range": ["M-1,0H-0.45M0.45,0H1M0.45,0A0.45,0.45,0,1,1,-0.45,0A0.45,0.45,0,1,1,0.45,0Z", "M-1,0H1M-0.4,-0.4H0.4V0.4H-0.4Z"]}, "legend": {"title": null, "orient": "none", "legendX": 469, "legendY": 2, "labelFontSize": 18, "rowPadding": 8, "symbolSize": 225, "symbolStrokeWidth": 1.2, "labelOffset": 5}},
    "fill": {"field": "s", "type": "nominal", "scale": {"domain": ["C57BL/6J NS", "C57BL/6J HS"], "range": ["white", "black"]}, "legend": {"title": null, "orient": "none", "legendX": 469, "legendY": 2, "labelFontSize": 18, "rowPadding": 8, "symbolSize": 225, "symbolStrokeWidth": 1.2, "labelOffset": 5}}}},
  {"data": {"values": [{"l": "C"}]}, "mark": {"type": "text", "align": "left", "baseline": "alphabetic", "fontSize": 32, "fontWeight": "bold"}, "encoding": {"x": {"datum": -1.68}, "y": {"datum": 168.2}, "text": {"field": "l"}}},
  {"data": {"values": [{"l": "C57BL/6J"}]}, "mark": {"type": "text", "align": "left", "baseline": "alphabetic", "fontSize": 24, "fontWeight": "bold"}, "encoding": {"x": {"datum": -19.2}, "y": {"datum": 127.2}, "text": {"field": "l"}}},
  {"encoding": {"x": {"field": "t", "type": "quantitative", "scale": {"domain": [-0.3, 60], "nice": false, "zero": false}, "axis": {"values": [0,2,4,6,8,10,12,14,16,18,20,22,24,26,28,30,32,34,36,38,40,42,44,46,48,50,52,54,56,58], "tickCount": 31, "labelExpr": "(((23+datum.value)%24)<10?'0':'')+((23+datum.value)%24)+'h00'", "labelAngle": 270, "labelOverlap": false, "title": "Time (hr)", "titlePadding": 16, "labelPadding": 3, "tickSize": 4}},
    "y": {"field": "y", "type": "quantitative", "scale": {"domain": [90, 160], "nice": false, "zero": false}, "axis": {"values": [100,120,140,160], "title": "Systolic blood pressure (mmHg)", "titlePadding": 12, "tickSize": 4}}},
   "layer": [
    {"data": {"name": "CN"}, "mark": {"type": "rule", "color": "#b4b4b4", "strokeWidth": 1.3}, "encoding": {"y2": {"field": "u"}}},
    {"data": {"name": "CN"}, "mark": {"type": "tick", "orient": "horizontal", "color": "#b4b4b4", "size": 5, "thickness": 1.3}, "encoding": {"y": {"field": "u", "type": "quantitative"}}},
    {"data": {"name": "CN"}, "mark": {"type": "line", "color": "#9c9c9c", "strokeWidth": 1, "strokeDash": [2, 2]}, "encoding": {}},
    {"data": {"name": "CN"}, "mark": {"type": "point", "shape": "circle", "filled": true, "fill": "white", "stroke": "black", "strokeWidth": 1, "size": 40, "opacity": 1}, "encoding": {}},
    {"data": {"name": "CH"}, "mark": {"type": "rule", "color": "black", "strokeWidth": 1.2}, "encoding": {"y2": {"field": "u"}}},
    {"data": {"name": "CH"}, "mark": {"type": "tick", "orient": "horizontal", "color": "black", "size": 5, "thickness": 1.2}, "encoding": {"y": {"field": "u", "type": "quantitative"}}},
    {"data": {"name": "CH"}, "mark": {"type": "line", "color": "black", "strokeWidth": 1.5}, "encoding": {}},
    {"data": {"name": "CH"}, "mark": {"type": "point", "shape": "square", "filled": true, "color": "black", "size": 30, "opacity": 1}, "encoding": {}}
   ]}
 ]},
{"width": 569, "height": 367,
 "layer": [
  {"data": {"name": "bars"}, "mark": {"type": "rect", "stroke": "black", "strokeWidth": 1.5}, "encoding": {"x": {"field": "a", "type": "quantitative"}, "x2": {"field": "b"}, "y": {"datum": 90.3}, "y2": {"datum": 92.6}, "fill": {"condition": {"test": "datum.c==='D'", "value": "black"}, "value": "white"}}},
  {"data": {"name": "sig"}, "mark": {"type": "rule", "strokeWidth": 1.5, "color": "black"}, "encoding": {"x": {"field": "a", "type": "quantitative"}, "x2": {"field": "b"}, "y": {"datum": 155.7}}},
  {"data": {"name": "sig"}, "mark": {"type": "text", "fontSize": 17, "fontWeight": "bold", "baseline": "middle"}, "encoding": {"x": {"field": "m", "type": "quantitative"}, "y": {"datum": 158.5}, "text": {"value": "*"}}},
  {"data": {"name": "sig2"}, "mark": {"type": "rule", "strokeWidth": 1.5, "color": "black"}, "encoding": {"x": {"field": "a", "type": "quantitative"}, "x2": {"field": "b"}, "y": {"datum": 131.7}}},
  {"data": {"name": "sig2"}, "mark": {"type": "text", "fontSize": 17, "fontWeight": "bold", "baseline": "middle"}, "encoding": {"x": {"field": "m", "type": "quantitative"}, "y": {"datum": 134.5}, "text": {"value": "*"}}},
  {"data": {"values": [{"s": "C57BL/6J NS"}, {"s": "C57BL/6J HS/LK"}]}, "mark": {"type": "point", "clip": true, "filled": true, "stroke": "black", "strokeWidth": 1.2, "size": 225},
   "encoding": {"x": {"datum": -50}, "y": {"datum": 0},
    "shape": {"field": "s", "type": "nominal", "scale": {"domain": ["C57BL/6J NS", "C57BL/6J HS/LK"], "range": ["M-1,0H-0.45M0.45,0H1M0.45,0A0.45,0.45,0,1,1,-0.45,0A0.45,0.45,0,1,1,0.45,0Z", "M-1,0H1M-0.4,-0.4H0.4V0.4H-0.4Z"]}, "legend": {"title": null, "orient": "none", "legendX": 481, "legendY": 0, "labelFontSize": 15, "rowPadding": 3, "symbolSize": 225, "symbolStrokeWidth": 1.2, "labelOffset": 5}},
    "fill": {"field": "s", "type": "nominal", "scale": {"domain": ["C57BL/6J NS", "C57BL/6J HS/LK"], "range": ["white", "black"]}, "legend": {"title": null, "orient": "none", "legendX": 481, "legendY": 0, "labelFontSize": 15, "rowPadding": 3, "symbolSize": 225, "symbolStrokeWidth": 1.2, "labelOffset": 5}}}},
  {"data": {"values": [{"l": "D"}]}, "mark": {"type": "text", "align": "left", "baseline": "alphabetic", "fontSize": 32, "fontWeight": "bold"}, "encoding": {"x": {"datum": -0.94}, "y": {"datum": 168.2}, "text": {"field": "l"}}},
  {"encoding": {"x": {"field": "t", "type": "quantitative", "scale": {"domain": [-0.3, 60], "nice": false, "zero": false}, "axis": {"values": [0,2,4,6,8,10,12,14,16,18,20,22,24,26,28,30,32,34,36,38,40,42,44,46,48,50,52,54,56,58], "tickCount": 31, "labelExpr": "(((23+datum.value)%24)<10?'0':'')+((23+datum.value)%24)+'h00'", "labelAngle": 270, "labelOverlap": false, "title": "Time (hr)", "titlePadding": 16, "labelPadding": 3, "tickSize": 4}},
    "y": {"field": "y", "type": "quantitative", "scale": {"domain": [90, 160], "nice": false, "zero": false}, "axis": {"values": [100,120,140,160], "title": "Systolic blood pressure (mmHg)", "titlePadding": 12, "tickSize": 4}}},
   "layer": [
    {"data": {"name": "DN"}, "mark": {"type": "rule", "color": "#b4b4b4", "strokeWidth": 1.3}, "encoding": {"y2": {"field": "u"}}},
    {"data": {"name": "DN"}, "mark": {"type": "tick", "orient": "horizontal", "color": "#b4b4b4", "size": 5, "thickness": 1.3}, "encoding": {"y": {"field": "u", "type": "quantitative"}}},
    {"data": {"name": "DN"}, "mark": {"type": "line", "color": "#9c9c9c", "strokeWidth": 1, "strokeDash": [2, 2]}, "encoding": {}},
    {"data": {"name": "DN"}, "mark": {"type": "point", "shape": "circle", "filled": true, "fill": "white", "stroke": "black", "strokeWidth": 1, "size": 40, "opacity": 1}, "encoding": {}},
    {"data": {"name": "DH"}, "mark": {"type": "rule", "color": "black", "strokeWidth": 1.2}, "encoding": {"y2": {"field": "u"}}},
    {"data": {"name": "DH"}, "mark": {"type": "tick", "orient": "horizontal", "color": "black", "size": 5, "thickness": 1.2}, "encoding": {"y": {"field": "u", "type": "quantitative"}}},
    {"data": {"name": "DH"}, "mark": {"type": "line", "color": "black", "strokeWidth": 1.5}, "encoding": {}},
    {"data": {"name": "DH"}, "mark": {"type": "point", "shape": "square", "filled": true, "color": "black", "size": 30, "opacity": 1}, "encoding": {}}
   ]}
 ]}
], "spacing": 7, "resolve": {"scale": {"shape": "independent", "fill": "independent"}, "legend": {"shape": "independent", "fill": "independent"}}}
]
}
